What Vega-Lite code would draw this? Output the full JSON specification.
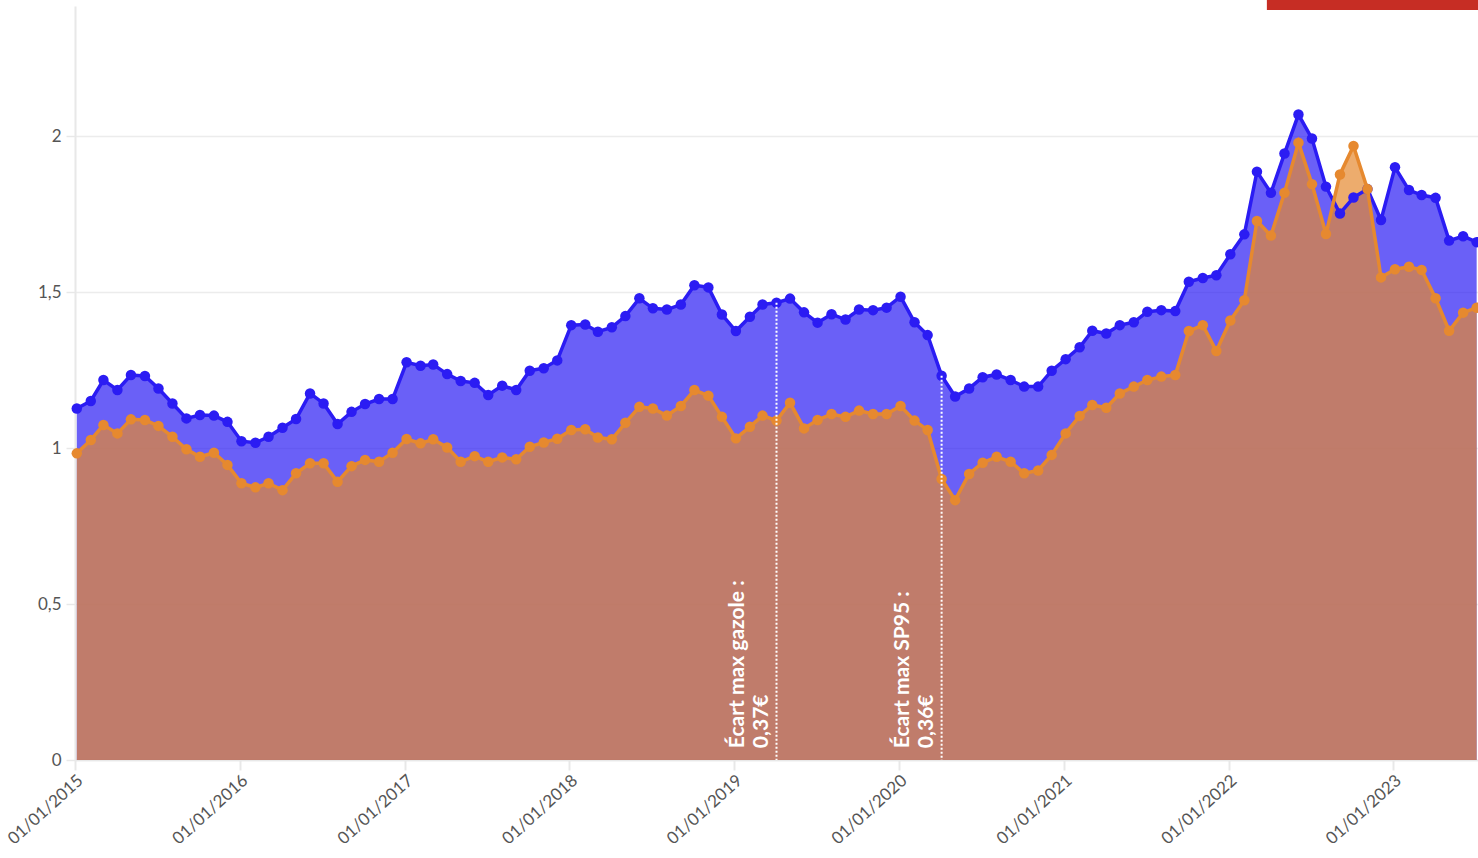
{
  "$schema": "https://vega.github.io/schema/vega-lite/v6.json",
  "width": 1403,
  "height": 754,
  "autosize": {"type": "none"},
  "padding": {"left": 75, "top": 6, "right": 0, "bottom": 98},
  "background": "white",
  "config": {
    "view": {"stroke": null},
    "font": "Lato",
    "axisY": {"domainColor": "#e8e8e8", "domainWidth": 2, "gridColor": "#ececec", "gridWidth": 1.5, "tickColor": "#e8e8e8", "tickWidth": 1.5, "tickSize": 9, "labelFontSize": 17, "labelColor": "#555555", "labelPadding": 5, "labelFont": "Lato"},
    "axisX": {"domainColor": "#e8e8e8", "domainWidth": 1.5, "tickColor": "#e8e8e8", "tickWidth": 2, "tickSize": 10, "labelAngle": -42, "labelFontSize": 17, "labelColor": "#555555", "labelFont": "Lato", "grid": false}
  },
  "datasets": {
    "prix": [
      {"date": "2015-01-05", "haut": 1.127, "bas": 0.983},
      {"date": "2015-02-05", "haut": 1.151, "bas": 1.026},
      {"date": "2015-03-05", "haut": 1.218, "bas": 1.074},
      {"date": "2015-04-05", "haut": 1.186, "bas": 1.047},
      {"date": "2015-05-05", "haut": 1.234, "bas": 1.092},
      {"date": "2015-06-05", "haut": 1.231, "bas": 1.090},
      {"date": "2015-07-05", "haut": 1.191, "bas": 1.071},
      {"date": "2015-08-05", "haut": 1.143, "bas": 1.036},
      {"date": "2015-09-05", "haut": 1.095, "bas": 0.996},
      {"date": "2015-10-05", "haut": 1.106, "bas": 0.972},
      {"date": "2015-11-05", "haut": 1.104, "bas": 0.985},
      {"date": "2015-12-05", "haut": 1.084, "bas": 0.946},
      {"date": "2016-01-05", "haut": 1.022, "bas": 0.887},
      {"date": "2016-02-05", "haut": 1.017, "bas": 0.874},
      {"date": "2016-03-05", "haut": 1.036, "bas": 0.887},
      {"date": "2016-04-05", "haut": 1.065, "bas": 0.865},
      {"date": "2016-05-05", "haut": 1.093, "bas": 0.919},
      {"date": "2016-06-05", "haut": 1.175, "bas": 0.951},
      {"date": "2016-07-05", "haut": 1.143, "bas": 0.951},
      {"date": "2016-08-05", "haut": 1.077, "bas": 0.892},
      {"date": "2016-09-05", "haut": 1.116, "bas": 0.942},
      {"date": "2016-10-05", "haut": 1.141, "bas": 0.962},
      {"date": "2016-11-05", "haut": 1.157, "bas": 0.956},
      {"date": "2016-12-05", "haut": 1.157, "bas": 0.985},
      {"date": "2017-01-05", "haut": 1.275, "bas": 1.029},
      {"date": "2017-02-05", "haut": 1.264, "bas": 1.015},
      {"date": "2017-03-05", "haut": 1.268, "bas": 1.028},
      {"date": "2017-04-05", "haut": 1.237, "bas": 1.002},
      {"date": "2017-05-05", "haut": 1.215, "bas": 0.956},
      {"date": "2017-06-05", "haut": 1.209, "bas": 0.974},
      {"date": "2017-07-05", "haut": 1.170, "bas": 0.956},
      {"date": "2017-08-05", "haut": 1.200, "bas": 0.970},
      {"date": "2017-09-05", "haut": 1.186, "bas": 0.964},
      {"date": "2017-10-05", "haut": 1.248, "bas": 1.004},
      {"date": "2017-11-05", "haut": 1.256, "bas": 1.018},
      {"date": "2017-12-05", "haut": 1.281, "bas": 1.030},
      {"date": "2018-01-05", "haut": 1.394, "bas": 1.058},
      {"date": "2018-02-05", "haut": 1.396, "bas": 1.060},
      {"date": "2018-03-05", "haut": 1.373, "bas": 1.034},
      {"date": "2018-04-05", "haut": 1.387, "bas": 1.028},
      {"date": "2018-05-05", "haut": 1.423, "bas": 1.081},
      {"date": "2018-06-05", "haut": 1.480, "bas": 1.132},
      {"date": "2018-07-05", "haut": 1.448, "bas": 1.127},
      {"date": "2018-08-05", "haut": 1.444, "bas": 1.104},
      {"date": "2018-09-05", "haut": 1.460, "bas": 1.135},
      {"date": "2018-10-05", "haut": 1.522, "bas": 1.186},
      {"date": "2018-11-05", "haut": 1.515, "bas": 1.168},
      {"date": "2018-12-05", "haut": 1.428, "bas": 1.100},
      {"date": "2019-01-05", "haut": 1.375, "bas": 1.031},
      {"date": "2019-02-05", "haut": 1.421, "bas": 1.068},
      {"date": "2019-03-05", "haut": 1.460, "bas": 1.104},
      {"date": "2019-04-05", "haut": 1.466, "bas": 1.088},
      {"date": "2019-05-05", "haut": 1.479, "bas": 1.145},
      {"date": "2019-06-05", "haut": 1.435, "bas": 1.063},
      {"date": "2019-07-05", "haut": 1.402, "bas": 1.090},
      {"date": "2019-08-05", "haut": 1.429, "bas": 1.109},
      {"date": "2019-09-05", "haut": 1.412, "bas": 1.100},
      {"date": "2019-10-05", "haut": 1.444, "bas": 1.120},
      {"date": "2019-11-05", "haut": 1.442, "bas": 1.109},
      {"date": "2019-12-05", "haut": 1.450, "bas": 1.109},
      {"date": "2020-01-05", "haut": 1.485, "bas": 1.135},
      {"date": "2020-02-05", "haut": 1.403, "bas": 1.088},
      {"date": "2020-03-05", "haut": 1.362, "bas": 1.058},
      {"date": "2020-04-05", "haut": 1.232, "bas": 0.901},
      {"date": "2020-05-05", "haut": 1.165, "bas": 0.833},
      {"date": "2020-06-05", "haut": 1.191, "bas": 0.917},
      {"date": "2020-07-05", "haut": 1.227, "bas": 0.953},
      {"date": "2020-08-05", "haut": 1.236, "bas": 0.972},
      {"date": "2020-09-05", "haut": 1.218, "bas": 0.956},
      {"date": "2020-10-05", "haut": 1.197, "bas": 0.919},
      {"date": "2020-11-05", "haut": 1.197, "bas": 0.928},
      {"date": "2020-12-05", "haut": 1.248, "bas": 0.978},
      {"date": "2021-01-05", "haut": 1.285, "bas": 1.047},
      {"date": "2021-02-05", "haut": 1.323, "bas": 1.103},
      {"date": "2021-03-05", "haut": 1.376, "bas": 1.138},
      {"date": "2021-04-05", "haut": 1.367, "bas": 1.129},
      {"date": "2021-05-05", "haut": 1.394, "bas": 1.175},
      {"date": "2021-06-05", "haut": 1.403, "bas": 1.197},
      {"date": "2021-07-05", "haut": 1.437, "bas": 1.218},
      {"date": "2021-08-05", "haut": 1.442, "bas": 1.229},
      {"date": "2021-09-05", "haut": 1.439, "bas": 1.234},
      {"date": "2021-10-05", "haut": 1.533, "bas": 1.375},
      {"date": "2021-11-05", "haut": 1.545, "bas": 1.394},
      {"date": "2021-12-05", "haut": 1.554, "bas": 1.311},
      {"date": "2022-01-05", "haut": 1.621, "bas": 1.409},
      {"date": "2022-02-05", "haut": 1.685, "bas": 1.474},
      {"date": "2022-03-05", "haut": 1.886, "bas": 1.728},
      {"date": "2022-04-05", "haut": 1.818, "bas": 1.681},
      {"date": "2022-05-05", "haut": 1.944, "bas": 1.818},
      {"date": "2022-06-05", "haut": 2.069, "bas": 1.979},
      {"date": "2022-07-05", "haut": 1.992, "bas": 1.846},
      {"date": "2022-08-05", "haut": 1.838, "bas": 1.686},
      {"date": "2022-09-05", "haut": 1.752, "bas": 1.877},
      {"date": "2022-10-05", "haut": 1.803, "bas": 1.968},
      {"date": "2022-11-05", "haut": 1.830, "bas": 1.830},
      {"date": "2022-12-05", "haut": 1.731, "bas": 1.547},
      {"date": "2023-01-05", "haut": 1.900, "bas": 1.573},
      {"date": "2023-02-05", "haut": 1.827, "bas": 1.581},
      {"date": "2023-03-05", "haut": 1.811, "bas": 1.571},
      {"date": "2023-04-05", "haut": 1.802, "bas": 1.480},
      {"date": "2023-05-05", "haut": 1.665, "bas": 1.376},
      {"date": "2023-06-05", "haut": 1.679, "bas": 1.434},
      {"date": "2023-07-05", "haut": 1.660, "bas": 1.450}
    ],
    "notes": [
      {"date": "2019-04-05", "haut": 1.466, "label": "Écart max gazole :\n0,37€"},
      {"date": "2020-04-05", "haut": 1.232, "label": "Écart max SP95 :\n0,36€"}
    ],
    "bandeau": [
      {"date": "2022-03-27", "date2": "2023-12-31", "y1": 2.404, "y2": 2.436}
    ]
  },
  "encoding": {
    "x": {
      "field": "date",
      "type": "temporal",
      "title": null,
      "scale": {"type": "utc", "domain": [{"year": 2015, "month": 1, "date": 1, "utc": true}, {"year": 2023, "month": 7, "date": 8, "utc": true}]},
      "axis": {"labelExpr": "utcFormat(datum.value, '%d/%m/%Y')", "tickCount": {"interval": "year", "step": 1}}
    }
  },
  "layer": [
    {
      "data": {"name": "prix"},
      "mark": {"type": "area", "color": "#2b1cf3", "opacity": 0.7},
      "encoding": {
        "y": {"field": "haut", "type": "quantitative", "title": null, "stack": null,
          "scale": {"domain": [0, 2.417], "nice": false, "zero": true},
          "axis": {"values": [0, 0.5, 1, 1.5, 2], "labelExpr": "replace(toString(datum.value), '.', ',')"}}
      }
    },
    {
      "data": {"name": "prix"},
      "mark": {"type": "area", "color": "#e6892f", "opacity": 0.7},
      "encoding": {"y": {"field": "bas", "type": "quantitative", "stack": null, "title": null}}
    },
    {
      "data": {"name": "prix"},
      "mark": {"type": "line", "color": "#2b1cf3", "strokeWidth": 3.5},
      "encoding": {"y": {"field": "haut", "type": "quantitative", "title": null}}
    },
    {
      "data": {"name": "prix"},
      "mark": {"type": "point", "filled": true, "color": "#2b1cf3", "opacity": 1, "size": 110},
      "encoding": {"y": {"field": "haut", "type": "quantitative", "title": null}}
    },
    {
      "data": {"name": "prix"},
      "mark": {"type": "line", "color": "#e6892f", "strokeWidth": 3.5},
      "encoding": {"y": {"field": "bas", "type": "quantitative", "title": null}}
    },
    {
      "data": {"name": "prix"},
      "mark": {"type": "point", "filled": true, "color": "#e6892f", "opacity": 1, "size": 110},
      "encoding": {"y": {"field": "bas", "type": "quantitative", "title": null}}
    },
    {
      "data": {"name": "notes"},
      "mark": {"type": "rule", "color": "white", "strokeWidth": 2, "strokeDash": [2, 2]},
      "encoding": {"y": {"field": "haut", "type": "quantitative", "title": null}, "y2": {"datum": 0}}
    },
    {
      "data": {"name": "notes"},
      "mark": {"type": "text", "angle": 270, "align": "left", "baseline": "bottom", "dy": -29, "color": "white", "fontWeight": "bold", "fontSize": 21, "lineHeight": 24, "lineBreak": "\n", "font": "Lato"},
      "encoding": {"y": {"datum": 0.038, "type": "quantitative"}, "text": {"field": "label"}}
    },
    {
      "data": {"name": "bandeau"},
      "mark": {"type": "rect", "color": "#c62d24"},
      "encoding": {"x2": {"field": "date2"}, "y": {"field": "y1", "type": "quantitative", "title": null}, "y2": {"field": "y2"}}
    }
  ]
}
